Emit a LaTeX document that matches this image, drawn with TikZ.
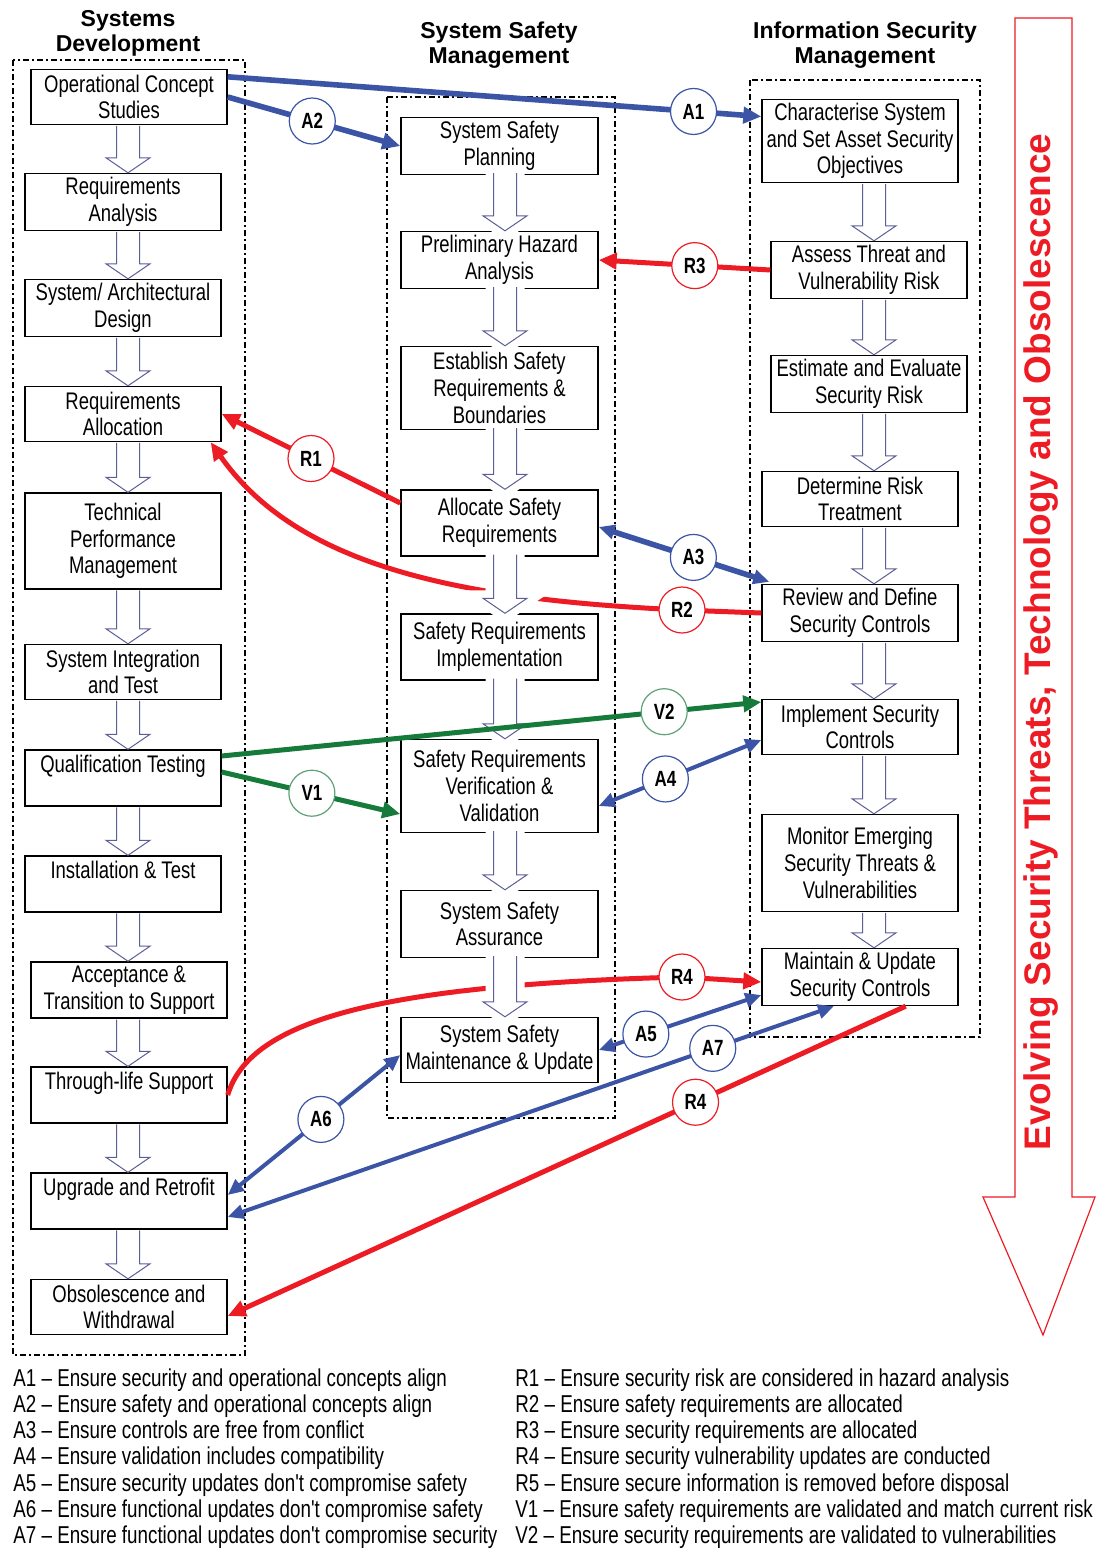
\documentclass[tikz,border=0pt]{standalone}
\usepackage{fontspec}
\setmainfont{Liberation Sans}
\newfontfamily\narrowfont{Liberation Sans}[FakeStretch=0.77]
\usetikzlibrary{arrows.meta,calc}
\definecolor{secblue}{RGB}{59,84,165}
\definecolor{secred}{RGB}{237,28,36}
\definecolor{secgreen}{RGB}{22,122,58}
\definecolor{flowgray}{RGB}{92,94,150}
\begin{document}
\begin{tikzpicture}[
  x=0.5pt, y=-0.5pt,
  block/.style={rectangle, draw, line width=0.7pt, align=center, inner xsep=1pt, inner ysep=2pt,
    minimum width=98pt, minimum height=27.5pt, font=\narrowfont\fontsize{12}{13.3}\selectfont},
  topblock/.style={block, text height=9pt, text depth=15pt},
  colframe/.style={draw, line width=0.8pt, dash pattern=on 3pt off 1.5pt on 1pt off 1.5pt},
  colhead/.style={align=center, font=\bfseries\fontsize{11.5}{12.5}\selectfont},
  hollow/.style={draw=flowgray, line width=0.5pt, fill=white},
  halo/.style={hollow, preaction={draw=white, line width=8pt}},
  onearrow/.style={line width=2.5pt, arrows={-Triangle[length=9pt,width=8pt]}},
  twoarrow/.style={line width=2pt, arrows={Triangle[length=8pt,width=7pt]-Triangle[length=8pt,width=7pt]}},
  circ/.style={circle, draw, line width=0.6pt, fill=white, text=black, inner sep=0pt, minimum size=23pt,
    font=\narrowfont\bfseries\fontsize{11}{12}\selectfont},
  acirc/.style={circ, draw=secblue},
  rcirc/.style={circ, draw=secred},
  vcirc/.style={circ, draw=secgreen!70!white},
  keytext/.style={anchor=base west, inner sep=0pt, font=\narrowfont\fontsize{12.2}{13}\selectfont}
]
\useasboundingbox (0,0) rectangle (1097,1548);

% column frames and titles
\draw[colframe] (13,60) rectangle (245,1355);
\draw[colframe] (387,97) rectangle (615,1118);
\draw[colframe] (750,80) rectangle (980,1037);
\node[colhead] (hsd) at (128,33) {Systems\\Development};
\node[colhead] (hssm) at (499,45) {System Safety\\Management};
\node[colhead] (hism) at (865,45) {Information Security\\Management};

% systems development
\node[block] (ocs) at (129,97) {Operational Concept\\Studies};
\node[block, below of=ocs, node distance=52.5pt, xshift=-3pt] (ra) {Requirements\\Analysis};
\node[block, below of=ra, node distance=53pt] (sad) {System/ Architectural\\Design};
\node[block, below of=sad, node distance=53pt] (ral) {Requirements\\Allocation};
\node[block, below of=ral, node distance=63.5pt, minimum height=48pt] (tpm) {Technical\\Performance\\Management};
\node[block, below of=tpm, node distance=65.5pt] (sit) {System Integration\\and Test};
\node[topblock, below of=sit, node distance=53pt] (qt) {Qualification Testing};
\node[topblock, below of=qt, node distance=53pt] (inst) {Installation \& Test};
\node[block, below of=inst, node distance=53pt, xshift=3pt] (ats) {Acceptance \&\\Transition to Support};
\node[topblock, below of=ats, node distance=52.5pt] (tls) {Through-life Support};
\node[topblock, below of=tls, node distance=53pt] (uar) {Upgrade and Retrofit};
\node[block, below of=uar, node distance=53pt] (ow) {Obsolescence and\\Withdrawal};

% system safety management
\node[block, minimum width=98.5pt, minimum height=27pt] (ssp) at (499.5,146) {System Safety\\Planning};
\node[block, minimum width=98.5pt, below of=ssp, node distance=57pt] (pha) {Preliminary Hazard\\Analysis};
\node[block, minimum width=98.5pt, minimum height=41.5pt, below of=pha, node distance=64pt] (esr) {Establish Safety\\Requirements \&\\Boundaries};
\node[block, minimum width=98.5pt, minimum height=33pt, below of=esr, node distance=67.5pt] (asr) {Allocate Safety\\Requirements};
\node[block, minimum width=98.5pt, minimum height=33pt, below of=asr, node distance=62pt] (sri) {Safety Requirements\\Implementation};
\node[block, minimum width=98.5pt, minimum height=46.5pt, below of=sri, node distance=69.5pt] (srvv) {Safety Requirements\\Verification \&\\Validation};
\node[block, minimum width=98.5pt, minimum height=33.5pt, below of=srvv, node distance=69pt] (ssa) {System Safety\\Assurance};
\node[block, minimum width=98.5pt, minimum height=32.5pt, below of=ssa, node distance=63pt] (ssmu) {System Safety\\Maintenance \& Update};

% information security management
\node[block, minimum height=41.5pt] (css) at (860,141) {Characterise System\\and Set Asset Security\\Objectives};
\node[block, below of=css, node distance=64.5pt, xshift=4.5pt] (atvr) {Assess Threat and\\Vulnerability Risk};
\node[block, below of=atvr, node distance=57pt] (eesr) {Estimate and Evaluate\\Security Risk};
\node[block, below of=eesr, node distance=57.5pt, xshift=-4.5pt] (drt) {Determine Risk\\Treatment};
\node[block, below of=drt, node distance=57pt] (rdsc) {Review and Define\\Security Controls};
\node[block, below of=rdsc, node distance=57pt] (isc) {Implement Security\\Controls};
\node[block, below of=isc, node distance=68pt, minimum height=48.5pt] (mestv) {Monitor Emerging\\Security Threats \&\\Vulnerabilities};
\node[block, below of=mestv, node distance=57pt, minimum height=28pt] (musc) {Maintain \& Update\\Security Controls};

% requirement links
\draw[onearrow, secred] ($(asr.west)+(0,-20)$) -- node[rcirc, pos=0.5] {R1} (ral.east);
\draw[onearrow, secred] (rdsc.west) -- (682,610) node[rcirc] {R2}
  .. controls (470,600) and (300,570) .. ($(ral.south east)+(-11,0)$);
\draw[onearrow, secred] (atvr.west) -- node[rcirc, pos=0.44] {R3} (pha.east);
\draw[onearrow, secred] (tls.east) .. controls (250,1020) and (380,985) .. (682,977) node[rcirc] {R4}
  -- ($(musc.west)+(0,5)$);
\draw[onearrow, secred] ($(musc.south east)+(-53,0)$) -- node[rcirc, pos=0.31] {R4} ($(ow.east)+(0,9)$);

% flow arrows
\coordinate (colL) at (128,0);
\coordinate (colM) at (505,0);
\coordinate (colR) at (874,0);
\foreach \a/\b/\c in {ocs/ra/colL, ra/sad/colL, sad/ral/colL, ral/tpm/colL, tpm/sit/colL, sit/qt/colL,
    qt/inst/colL, inst/ats/colL, ats/tls/colL, tls/uar/colL, uar/ow/colL,
    css/atvr/colR, atvr/eesr/colR, eesr/drt/colR, drt/rdsc/colR, rdsc/isc/colR, isc/mestv/colR, mestv/musc/colR}
  \draw[hollow] let \p1=(\a.south -| \c), \p2=(\b.north -| \c) in
    (\x1-5.75pt,\y1-0.35pt) -- (\x1-5.75pt,\y2+7.5pt) -- (\x1-11pt,\y2+7.5pt) -- (\p2)
    -- (\x1+11pt,\y2+7.5pt) -- (\x1+5.75pt,\y2+7.5pt) -- (\x1+5.75pt,\y1-0.35pt);
\foreach \a/\b in {ssp/pha, pha/esr, esr/asr, asr/sri, sri/srvv, srvv/ssa, ssa/ssmu}
  \draw[halo] let \p1=(\a.south -| colM), \p2=(\b.north -| colM) in
    (\x1-5.75pt,\y1+1pt) -- (\x1-5.75pt,\y2+7.5pt) -- (\x1-11pt,\y2+7.5pt) -- (\p2)
    -- (\x1+11pt,\y2+7.5pt) -- (\x1+5.75pt,\y2+7.5pt) -- (\x1+5.75pt,\y1+1pt);

% alignment and validation links
\draw[onearrow, secblue, line width=2.8pt] ($(ocs.north east)+(0,8)$) -- node[acirc, pos=0.873] {A1} ($(css.north west)+(0,18)$);
\draw[onearrow, secblue, line width=2.8pt] (ocs.east) -- node[acirc, pos=0.49] {A2} (ssp.west);
\draw[twoarrow, secblue, line width=2.8pt] ($(asr.east)+(0,4)$) -- node[acirc, pos=0.555] {A3} ($(rdsc.north west)+(8,-2)$);
\draw[twoarrow, secblue] ($(srvv.east)+(0,20)$) -- node[acirc, pos=0.41] {A4} ($(isc.west)+(0,13)$);
\draw[twoarrow, secblue] (ssmu.east) -- node[acirc, pos=0.29] {A5} ($(musc.west)+(0,18)$);
\draw[twoarrow, secblue] ($(uar.east)+(0,-6)$) -- node[acirc, pos=0.54] {A6} ($(ssmu.west)+(0,5)$);
\draw[twoarrow, secblue] ($(uar.east)+(0,16)$) -- node[acirc, pos=0.8] {A7} ($(musc.south)+(-26,0)$);
\draw[onearrow, secgreen] ($(qt.east)+(0,-6)$) -- node[vcirc, pos=0.505] {V1} ($(srvv.west)+(0,28)$);
\draw[onearrow, secgreen] ($(qt.east)+(0,-22)$) -- node[vcirc, pos=0.82] {V2} ($(isc.west)+(0,-25)$);

% evolving threats arrow
\draw[secred, line width=0.6pt] (1015,18) -- (1072,18) -- (1072,1197) -- (1095,1197) -- (1043,1335)
  -- (983,1197) -- (1015,1197) -- cycle;
\node[rotate=90, text=secred, font=\bfseries\fontsize{18.5}{19}\selectfont] (evol) at (1041,642)
  {Evolving Security Threats, Technology and Obsolescence};

% key
\foreach \t [count=\i from 0] in {A1 – Ensure security and operational concepts align,
    A2 – Ensure safety and operational concepts align,
    A3 – Ensure controls are free from conflict,
    A4 – Ensure validation includes compatibility,
    A5 – Ensure security updates don't compromise safety,
    A6 – Ensure functional updates don't compromise safety,
    A7 – Ensure functional updates don't compromise security}
  \node[keytext] (kl\i) at (13,{1386+26.3*\i}) {\t};
\foreach \t [count=\i from 0] in {R1 – Ensure security risk are considered in hazard analysis,
    R2 – Ensure safety requirements are allocated,
    R3 – Ensure security requirements are allocated,
    R4 – Ensure security vulnerability updates are conducted,
    R5 – Ensure secure information is removed before disposal,
    V1 – Ensure safety requirements are validated and match current risk,
    V2 – Ensure security requirements are validated to vulnerabilities}
  \node[keytext] (kr\i) at (515,{1386+26.3*\i}) {\t};
\end{tikzpicture}
\end{document}
